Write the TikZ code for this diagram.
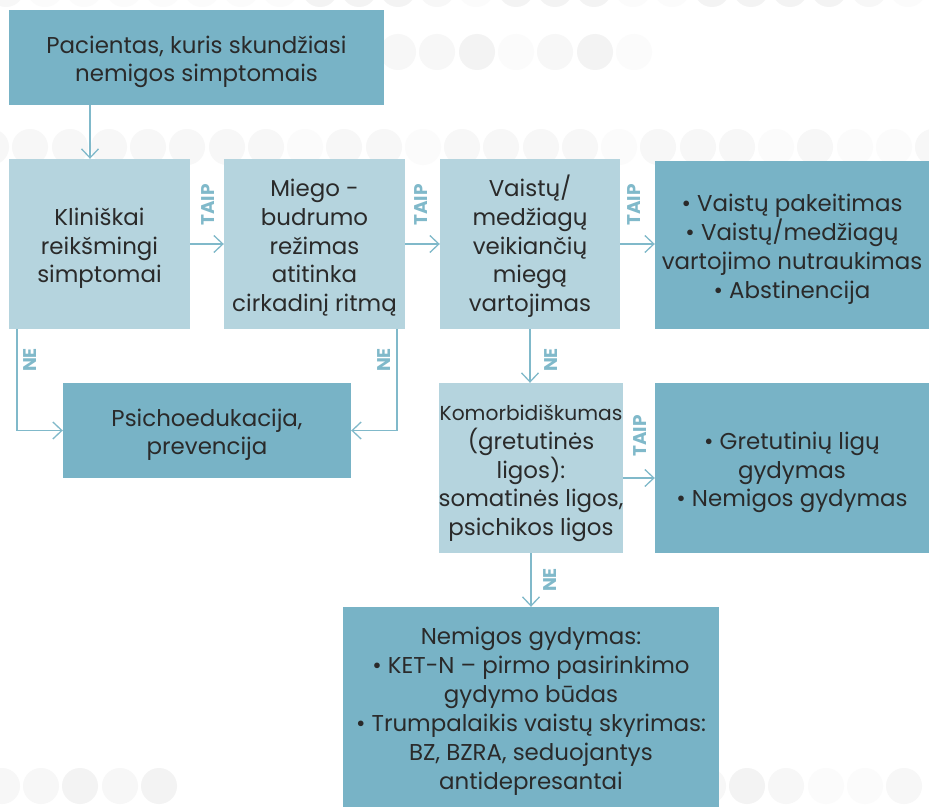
\documentclass[tikz,border=0pt]{standalone}
\usepackage{fontspec}
\setmainfont{Poppins}
\usetikzlibrary{arrows.meta}
\definecolor{dark}{HTML}{78B3C6}
\definecolor{light}{HTML}{B5D4DE}
\definecolor{lineC}{HTML}{80B9CA}
\definecolor{txt}{HTML}{2A2A2A}
\definecolor{ca}{HTML}{F3F3F3}
\definecolor{cb}{HTML}{F7F7F7}
\definecolor{cc}{HTML}{FBFBFB}
\newcommand\fst{\rule{0pt}{27bp}}
\newcommand\lst{\rule[-7bp]{0pt}{0pt}}
\begin{document}
\begin{tikzpicture}[x=1bp,y=-1bp,
  box/.style={inner sep=0pt, align=center, text=txt, font=\fontsize{23}{29}\selectfont},
  dbox/.style={box, fill=dark},
  lbox/.style={box, fill=light},
  arr/.style={draw=lineC, line width=1.3bp, -{Straight Barb[length=9bp,width=17bp]}},
  lab/.style={text=lineC, font=\bfseries\fontsize{18.5}{18.5}\selectfont, rotate=90, inner sep=0pt}]
\useasboundingbox (0,0) rectangle (929,807);
\fill[white] (0,0) rectangle (929,807);
% background dots
\foreach \x/\c in {6/cb,45/cc,84/cc,124/cc,163/cc,202/cc,241/cc,280/cc,320/ca,359/ca,398/ca,437/cb,476/cc,516/ca,555/ca,594/ca,633/cc,672/cc,712/ca,751/ca,790/ca,829/ca,869/cb,908/cc}
  \fill[\c] (\x,-11) circle[radius=18];
\foreach \x/\c in {398/cb,437/cb,477/ca,516/cc,555/cb,595/ca,634/cc}
  \fill[\c] (\x,52) circle[radius=18];
\foreach \x/\c in {-9/cb,30/cb,70/cb,109/cb,148/cb,187/cb,227/cb,266/cb,305/cc,344/cb,384/cb,423/cc,462/cb,501/cb,541/cb,580/cb,619/cc,658/cb,698/cb,737/cb,776/cc,815/cb,855/cc,894/cc,933/cb}
  \fill[\c] (\x,147) circle[radius=18];
\foreach \x/\c in {2/cb,41/cb,80/ca,120/cb,159/ca,708/cb,747/ca,786/cb,826/cc,865/cc,904/cb}
  \fill[\c] (\x,786) circle[radius=18];
% boxes
\node[dbox, minimum width=375bp, minimum height=95bp] (top) at (196.5,57.5)
  {\fst Pacientas, kuris skundžiasi\\nemigos simptomais\lst};
\node[lbox, minimum width=181bp, minimum height=170bp] (A) at (99.5,244)
  {\fst Kliniškai\\reikšmingi\\simptomai\lst};
\node[lbox, minimum width=181bp, minimum height=170bp] (B) at (314.5,244)
  {\fst Miego -\\budrumo\\režimas\\atitinka\\cirkadinį ritmą\lst};
\node[lbox, minimum width=180bp, minimum height=170bp] (C) at (530,244)
  {\fst Vaistų/\\medžiagų\\veikiančių\\miegą\\vartojimas\lst};
\node[dbox, minimum width=274bp, minimum height=168bp] (D) at (792,245)
  {\fst • Vaistų pakeitimas\\• Vaistų/medžiagų\\vartojimo nutraukimas\\• Abstinencija\lst};
\node[dbox, minimum width=288bp, minimum height=95bp] (P) at (207,430.5)
  {\fst Psichoedukacija,\\prevencija\lst};
\node[lbox, minimum width=182bp, minimum height=170bp] (K) at (531,468)
  {\fontsize{21}{29}\selectfont\fst{\fontsize{20.3}{29}\selectfont Komorbidiškumas}\\(gretutinės\\ligos):\\somatinės ligos,\\psichikos ligos\lst};
\node[dbox, minimum width=274bp, minimum height=170bp] (G) at (792,468)
  {\fst • Gretutinių ligų\\gydymas\\• Nemigos gydymas\lst};
\node[dbox, minimum width=376bp, minimum height=200bp] (E) at (531,707)
  {\fst Nemigos gydymas:\\• KET-N – pirmo pasirinkimo\\gydymo būdas\\• Trumpalaikis vaistų skyrimas:\\BZ, BZRA, seduojantys\\antidepresantai\lst};
% helper coordinates
\coordinate (xa) at (90,0);
\coordinate (xn1) at (17,0);
\coordinate (xn2) at (397,0);
\coordinate (yk) at (0,478);
% connectors
\draw[arr] (top.south -| xa) -- (A.north -| xa);
\draw[arr] (A.east) -- (B.west);
\draw[arr] (B.east) -- (C.west);
\draw[arr] (C.east) -- (C.east -| D.west);
\draw[arr] (A.south -| xn1) |- (P.west);
\draw[arr] (B.south -| xn2) |- (P.east);
\draw[arr] (C.south) -- (C.south |- K.north);
\draw[arr] (K.east |- yk) -- (G.west |- yk);
\draw[arr] (K.south) -- (K.south |- E.north);
% labels
\node[lab] (t1) at (208,205) {TAIP};
\node[lab] (t2) at (421,205) {TAIP};
\node[lab] (t3) at (634,205) {TAIP};
\node[lab] (t4) at (640,436) {TAIP};
\node[lab] (n1) at (30,360) {NE};
\node[lab] (n2) at (384,360) {NE};
\node[lab] (n3) at (551,360) {NE};
\node[lab] (n4) at (550,580) {NE};
\end{tikzpicture}
\end{document}
